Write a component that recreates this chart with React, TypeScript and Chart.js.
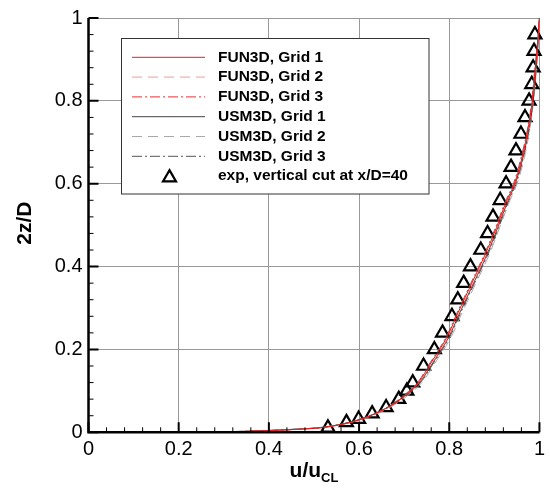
import React, { useEffect, useRef } from 'react';
import { Chart, registerables } from 'chart.js';

Chart.register(...registerables);

const FONT = '"Liberation Sans", Arial, Helvetica, sans-serif';

// Vertical positions (2z/D) shared by the CFD profiles
const cfdZ = [0, 0.0, 0.001, 0.004, 0.007, 0.013, 0.03, 0.058, 0.088, 0.125, 0.16, 0.23, 0.29, 0.36, 0.43, 0.495, 0.553, 0.605, 0.675, 0.735, 0.8, 0.87, 0.93, 1.0];

// Velocity ratio u/u_CL for each code and grid
const fun3dGrid1U = [0, 0.2, 0.3, 0.4, 0.46, 0.53, 0.6, 0.66, 0.7, 0.735, 0.755, 0.795, 0.82, 0.85, 0.88, 0.905, 0.925, 0.946, 0.964, 0.975, 0.984, 0.99, 0.995, 1.0];
const fun3dGrid2U = [0, 0.2, 0.3, 0.4, 0.46, 0.531, 0.602, 0.662, 0.702, 0.737, 0.758, 0.798, 0.823, 0.853, 0.883, 0.907, 0.927, 0.948, 0.965, 0.976, 0.985, 0.991, 0.996, 1.0];
const fun3dGrid3U = [0, 0.2, 0.3, 0.4, 0.46, 0.529, 0.598, 0.658, 0.698, 0.733, 0.753, 0.793, 0.818, 0.848, 0.878, 0.903, 0.923, 0.944, 0.962, 0.974, 0.983, 0.989, 0.995, 1.0];
const usm3dGrid1U = [0, 0.2, 0.29, 0.39, 0.45, 0.525, 0.598, 0.66, 0.702, 0.738, 0.759, 0.799, 0.824, 0.854, 0.884, 0.908, 0.928, 0.948, 0.966, 0.977, 0.986, 0.992, 0.996, 1.0];
const usm3dGrid2U = [0, 0.2, 0.29, 0.39, 0.45, 0.527, 0.602, 0.665, 0.707, 0.743, 0.764, 0.804, 0.829, 0.859, 0.889, 0.912, 0.932, 0.952, 0.969, 0.979, 0.987, 0.993, 0.997, 1.0];
const usm3dGrid3U = [0, 0.2, 0.29, 0.39, 0.45, 0.526, 0.6, 0.662, 0.704, 0.74, 0.761, 0.801, 0.826, 0.856, 0.886, 0.91, 0.93, 0.95, 0.967, 0.978, 0.986, 0.992, 0.996, 1.0];

// Measured profile, vertical cut at x/D = 40
const expU = [0.99, 0.988, 0.986, 0.983, 0.977, 0.968, 0.959, 0.948, 0.937, 0.926, 0.913, 0.897, 0.885, 0.87, 0.847, 0.832, 0.819, 0.806, 0.785, 0.767, 0.743, 0.719, 0.706, 0.688, 0.66, 0.629, 0.599, 0.572, 0.531];
const expZ = [0.96, 0.92, 0.88, 0.84, 0.8, 0.76, 0.72, 0.68, 0.64, 0.6, 0.56, 0.52, 0.48, 0.44, 0.4, 0.36, 0.32, 0.28, 0.24, 0.2, 0.16, 0.12, 0.1, 0.08, 0.06, 0.045, 0.032, 0.024, 0.011];

const seriesLabels = [
  'FUN3D, Grid 1',
  'FUN3D, Grid 2',
  'FUN3D, Grid 3',
  'USM3D, Grid 1',
  'USM3D, Grid 2',
  'USM3D, Grid 3',
  'exp, vertical cut at x/D=40',
];

const toPoints = (u: number[], z: number[]) => u.map((v, i) => ({ x: v, y: z[i] }));

const fmtTick = (v: number) => {
  const r = Math.round(v * 10) / 10;
  return r === 0 || r === 1 ? String(r) : r.toFixed(1);
};

function drawTriangle(ctx: CanvasRenderingContext2D, x: number, y: number, r: number) {
  let rad = 0;
  ctx.beginPath();
  ctx.moveTo(x + Math.sin(rad) * r, y - Math.cos(rad) * r);
  rad += (2 * Math.PI) / 3;
  ctx.lineTo(x + Math.sin(rad) * r, y - Math.cos(rad) * r);
  rad += (2 * Math.PI) / 3;
  ctx.lineTo(x + Math.sin(rad) * r, y - Math.cos(rad) * r);
  ctx.closePath();
  ctx.stroke();
}

const framePlugin = {
  id: 'frame',
  afterDatasetsDraw(chart: any) {
    const { ctx, chartArea: a, scales } = chart;
    const xs = scales.x;
    const ys = scales.y;

    // Legend box
    ctx.save();
    const bx = 121.5, by = 38.5, bw = 307.5, bh = 155.5;
    ctx.fillStyle = '#ffffff';
    ctx.fillRect(bx, by, bw, bh);
    ctx.strokeStyle = '#333';
    ctx.lineWidth = 1;
    ctx.strokeRect(bx, by, bw, bh);
    ctx.font = `bold 15.5px ${FONT}`;
    ctx.textBaseline = 'middle';
    ctx.textAlign = 'left';
    chart.data.datasets.forEach((ds: any, i: number) => {
      const ry = 57.3 + i * 19.8;
      if (ds.showLine) {
        ctx.save();
        ctx.strokeStyle = ds.borderColor;
        ctx.lineWidth = ds.borderWidth;
        ctx.setLineDash(ds.borderDash || []);
        ctx.beginPath();
        ctx.moveTo(132, ry);
        ctx.lineTo(205, ry);
        ctx.stroke();
        ctx.restore();
      } else {
        ctx.save();
        ctx.strokeStyle = ds.borderColor;
        ctx.lineWidth = ds.borderWidth;
        drawTriangle(ctx, 169.5, ry + 1.5, ds.pointRadius);
        ctx.restore();
      }
      ctx.fillStyle = '#000';
      ctx.fillText(ds.label, 218, ry);
    });
    ctx.restore();

    // Axis lines with inward ticks
    ctx.save();
    ctx.strokeStyle = '#000';
    ctx.lineCap = 'butt';
    ctx.lineWidth = 2.5;
    ctx.beginPath();
    ctx.moveTo(a.left, a.top);
    ctx.lineTo(a.left, a.bottom);
    ctx.lineTo(a.right, a.bottom);
    ctx.stroke();
    for (let i = 0; i <= 25; i++) {
      const v = i * 0.04;
      const major = i % 5 === 0;
      ctx.lineWidth = major ? 2 : 1;
      const len = major ? 10 : 5;
      const px = xs.getPixelForValue(v);
      const py = ys.getPixelForValue(v);
      ctx.beginPath();
      ctx.moveTo(px, a.bottom);
      ctx.lineTo(px, a.bottom - len);
      ctx.moveTo(a.left, py);
      ctx.lineTo(a.left + len, py);
      ctx.stroke();
    }
    ctx.restore();

    // Axis titles
    ctx.save();
    ctx.fillStyle = '#000';
    ctx.textBaseline = 'alphabetic';
    ctx.textAlign = 'left';
    ctx.font = `bold 21px ${FONT}`;
    const main = 'u/u';
    const w1 = ctx.measureText(main).width;
    ctx.font = `bold 13px ${FONT}`;
    const sub = 'CL';
    const w2 = ctx.measureText(sub).width;
    const sx = (a.left + a.right) / 2 - (w1 + w2) / 2;
    ctx.font = `bold 21px ${FONT}`;
    ctx.fillText(main, sx, 477);
    ctx.font = `bold 13px ${FONT}`;
    ctx.fillText(sub, sx + w1, 482);

    ctx.translate(25, (a.top + a.bottom) / 2 - 2);
    ctx.rotate(-Math.PI / 2);
    ctx.textAlign = 'center';
    ctx.textBaseline = 'middle';
    ctx.font = `bold 21px ${FONT}`;
    ctx.fillText('2z/D', 0, 0);
    ctx.restore();
  },
};

export default function App() {
  const canvasRef = useRef<HTMLCanvasElement | null>(null);

  useEffect(() => {
    const canvas = canvasRef.current;
    if (!canvas) return;

    const lineSet = (label: string, u: number[], color: string, width: number, dash: number[]) => ({
      label,
      data: toPoints(u, cfdZ),
      showLine: true,
      borderColor: color,
      borderWidth: width,
      borderDash: dash,
      pointRadius: 0,
      cubicInterpolationMode: 'monotone' as const,
      fill: false,
    });

    const chart = new Chart(canvas, {
      type: 'scatter',
      data: {
        datasets: [
          lineSet(seriesLabels[0], fun3dGrid1U, 'rgb(228,30,30)', 1, []),
          lineSet(seriesLabels[1], fun3dGrid2U, 'rgba(236,90,90,0.6)', 1, [10, 6]),
          lineSet(seriesLabels[2], fun3dGrid3U, 'rgb(228,50,50)', 1, [10, 3, 2, 3]),
          lineSet(seriesLabels[3], usm3dGrid1U, '#444444', 1, []),
          lineSet(seriesLabels[4], usm3dGrid2U, '#a8a8a8', 1, [10, 6]),
          lineSet(seriesLabels[5], usm3dGrid3U, '#555555', 1, [10, 3, 2, 3]),
          {
            label: seriesLabels[6],
            data: toPoints(expU, expZ),
            showLine: false,
            pointStyle: 'triangle',
            pointRadius: 7.5,
            borderWidth: 2.2,
            borderColor: '#000000',
            backgroundColor: 'rgba(0,0,0,0)',
            clip: false,
          } as any,
        ],
      },
      options: {
        responsive: false,
        maintainAspectRatio: false,
        animation: false,
        events: [],
        layout: { padding: { left: 0, top: 14, right: 3.5, bottom: 0 } },
        plugins: {
          legend: { display: false },
          tooltip: { enabled: false },
          title: { display: false },
        },
        scales: {
          x: {
            type: 'linear',
            min: 0,
            max: 1,
            border: { display: false },
            grid: { color: '#999999', lineWidth: 1, drawTicks: false },
            ticks: {
              stepSize: 0.2,
              padding: 5,
              color: '#000',
              font: { family: FONT, size: 20 },
              maxRotation: 0,
              callback: (v: any) => fmtTick(Number(v)),
            },
            afterFit: (s: any) => {
              s.height = 55.7;
            },
          },
          y: {
            type: 'linear',
            min: 0,
            max: 1,
            border: { display: false },
            grid: { color: '#999999', lineWidth: 1, drawTicks: false },
            ticks: {
              stepSize: 0.2,
              padding: 6,
              color: '#000',
              font: { family: FONT, size: 20 },
              callback: (v: any) => fmtTick(Number(v)),
            },
            afterFit: (s: any) => {
              s.width = 88.5;
            },
          },
        },
      },
      plugins: [framePlugin],
    });

    return () => chart.destroy();
  }, []);

  return (
    <div style={{ position: 'fixed', left: 0, top: 0, width: 550, height: 488, background: '#fff' }}>
      <canvas ref={canvasRef} width={550} height={488} style={{ display: 'block' }} />
    </div>
  );
}
